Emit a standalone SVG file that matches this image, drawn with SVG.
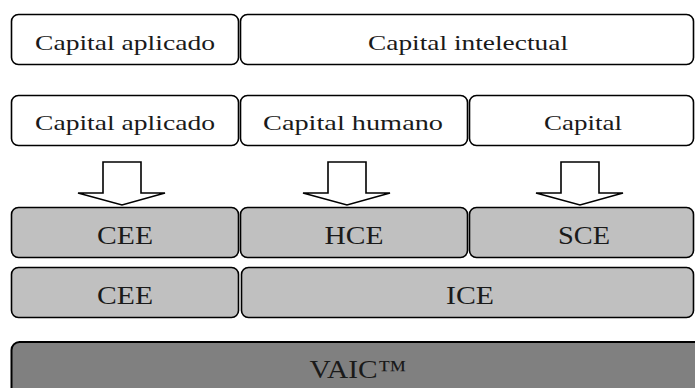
<svg xmlns="http://www.w3.org/2000/svg" width="695" height="388" viewBox="0 0 695 388">
<style>
.box{fill:#fff;stroke:#000;stroke-width:1.6}
.g1{fill:#c0c0c0;stroke:#000;stroke-width:1.6}
.g2{fill:#808080;stroke:#000;stroke-width:2}
.arrow{fill:#fff;stroke:#000;stroke-width:1.6;stroke-linejoin:miter}
.t{font-family:'Liberation Serif','Times New Roman',Tinos,'Noto Serif','DejaVu Serif',FreeSerif,'Nimbus Roman',Georgia,serif;fill:#1a1a1a;text-anchor:middle}
.s{font-size:21px}
.l{font-size:26px}
</style>
<g id="r1-aplicado"><rect class="box" x="11.5" y="14.5" width="227" height="50" rx="7"/><text class="t s" x="125" y="50" textLength="180" lengthAdjust="spacingAndGlyphs">Capital aplicado</text></g>
<g id="r1-intelectual"><rect class="box" x="240.5" y="14.5" width="453" height="50" rx="7"/><text class="t s" x="468" y="50" textLength="200" lengthAdjust="spacingAndGlyphs">Capital intelectual</text></g>
<g id="r2-aplicado"><rect class="box" x="11.5" y="95.5" width="227" height="50" rx="7"/><text class="t s" x="125" y="130" textLength="180" lengthAdjust="spacingAndGlyphs">Capital aplicado</text></g>
<g id="r2-humano"><rect class="box" x="240.5" y="95.5" width="227" height="50" rx="7"/><text class="t s" x="353" y="130" textLength="180" lengthAdjust="spacingAndGlyphs">Capital humano</text></g>
<g id="r2-capital"><rect class="box" x="469.5" y="95.5" width="224" height="50" rx="7"/><text class="t s" x="583" y="130" textLength="78" lengthAdjust="spacingAndGlyphs">Capital</text></g>
<g id="connectors">
<polygon class="arrow" points="103,162 141,162 141,193 165,193 122,205 78,193 103,193"/>
<polygon class="arrow" points="328,162 366,162 366,193 390,193 347,205 303,193 328,193"/>
<polygon class="arrow" points="561,162 599,162 599,193 623,193 580,205 536,193 561,193"/>
</g>
<g id="r3-cee"><rect class="g1" x="11.5" y="207.5" width="227" height="50" rx="7"/><text class="t l" x="125" y="244" textLength="56" lengthAdjust="spacingAndGlyphs">CEE</text></g>
<g id="r3-hce"><rect class="g1" x="240.5" y="207.5" width="227" height="50" rx="7"/><text class="t l" x="354" y="244" textLength="59" lengthAdjust="spacingAndGlyphs">HCE</text></g>
<g id="r3-sce"><rect class="g1" x="469.5" y="207.5" width="224" height="50" rx="7"/><text class="t l" x="584" y="244" textLength="52" lengthAdjust="spacingAndGlyphs">SCE</text></g>
<g id="r4-cee"><rect class="g1" x="11.5" y="267.5" width="227" height="50" rx="7"/><text class="t l" x="125" y="304" textLength="56" lengthAdjust="spacingAndGlyphs">CEE</text></g>
<g id="r4-ice"><rect class="g1" x="241.5" y="267.5" width="452" height="50" rx="7"/><text class="t l" x="470" y="304" textLength="48" lengthAdjust="spacingAndGlyphs">ICE</text></g>
<g id="vaic"><rect class="g2" x="11.5" y="342" width="700" height="60" rx="8"/><text class="t l" x="358" y="378" textLength="97" lengthAdjust="spacingAndGlyphs">VAIC™</text></g>
</svg>
